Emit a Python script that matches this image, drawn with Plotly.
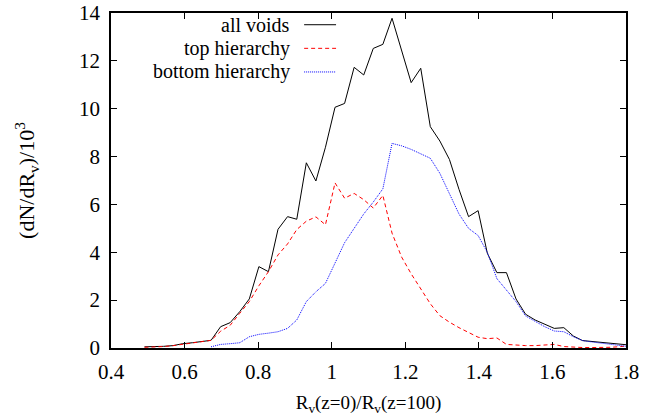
import plotly.graph_objects as go

# bin centres (ratio R_v(z=0)/R_v(z=100))
x_vals = [0.491, 0.517, 0.543, 0.569, 0.595, 0.621, 0.646, 0.672, 0.698, 0.724,
          0.750, 0.776, 0.802, 0.828, 0.854, 0.880, 0.905, 0.931, 0.957, 0.983,
          1.009, 1.035, 1.061, 1.087, 1.113, 1.139, 1.164, 1.190, 1.216, 1.242,
          1.268, 1.294, 1.320, 1.346, 1.372, 1.398, 1.423, 1.449, 1.475, 1.501,
          1.527, 1.553, 1.579, 1.605, 1.631, 1.657, 1.682, 1.708, 1.734, 1.760,
          1.786, 1.812]

all_voids = [0.05, 0.05, 0.07, 0.10, 0.18, 0.22, 0.26, 0.32, 0.89, 1.06,
             1.52, 2.05, 3.40, 3.19, 4.96, 5.49, 5.38, 7.74, 6.98, 8.39,
             10.06, 10.22, 11.73, 11.41, 12.52, 12.69, 13.78, 12.38, 11.09, 11.69,
             9.25, 8.65, 7.88, 6.63, 5.49, 5.74, 3.96, 3.15, 3.15, 2.05,
             1.41, 1.17, 1.00, 0.82, 0.85, 0.50, 0.31, 0.27, 0.22, 0.19,
             0.16, 0.12]

top_hier = [0.03, 0.04, 0.06, 0.10, 0.15, 0.20, 0.25, 0.32, 0.70, 0.95,
            1.45, 1.94, 2.60, 3.19, 3.89, 4.35, 4.95, 5.30, 5.48, 5.15,
            6.90, 6.26, 6.46, 6.20, 5.85, 6.38, 4.80, 3.80, 3.10, 2.45,
            1.85, 1.35, 1.08, 0.85, 0.65, 0.45, 0.39, 0.42, 0.15, 0.12,
            0.10, 0.10, 0.12, 0.15, 0.06, 0.03, 0.02, 0.02, 0.02, 0.03,
            0.06, 0.10]

bottom_hier = [None, None, None, None, None, None, None, 0.05, 0.15, 0.18,
               0.22, 0.47, 0.57, 0.62, 0.68, 0.82, 1.17, 1.94, 2.35, 2.70,
               3.54, 4.40, 5.00, 5.60, 6.10, 6.65, 8.55, 8.45, 8.30, 8.10,
               7.93, 7.30, 6.46, 5.60, 5.00, 4.70, 4.00, 2.90, 2.42, 1.94,
               1.34, 1.10, 0.89, 0.71, 0.68, 0.47, 0.31, 0.25, 0.20, 0.15,
               0.10, 0.05]

names = ["all voids", "top hierarchy", "bottom hierarchy"]
colors = ["black", "#ff0000", "#0000ff"]
dashes = ["solid", "4px,3px", "1px,1px"]
series = [all_voids, top_hier, bottom_hier]

x_ticks = [0.4, 0.6, 0.8, 1.0, 1.2, 1.4, 1.6, 1.8]
x_tick_text = ["0.4", "0.6", "0.8", "1", "1.2", "1.4", "1.6", "1.8"]
y_ticks = [0, 2, 4, 6, 8, 10, 12, 14]

FONT = "Liberation Serif"
TICK_SIZE = 21
LEG_SIZE = 20

fig = go.Figure()
for name, col, dsh, ys in zip(names, colors, dashes, series):
    fig.add_trace(go.Scatter(x=x_vals, y=ys, mode="lines", name=name,
                             line=dict(color=col, width=1, dash=dsh),
                             showlegend=False, connectgaps=False))

# gnuplot-style legend: right-aligned text followed by line sample
for k, (name, col, dsh) in enumerate(zip(names, colors, dashes)):
    yk = 0.965 - k * 0.0705
    fig.add_annotation(xref="paper", yref="paper", x=0.346, y=yk, text=name,
                       showarrow=False, xanchor="right", yanchor="middle",
                       xshift=3, font_family=FONT, font_size=LEG_SIZE, font_color="black")
    fig.add_shape(type="line", xref="paper", yref="paper",
                  x0=0.375, x1=0.437, y0=yk, y1=yk,
                  line=dict(color=col, width=1, dash=dsh))

fig.update_layout(
    width=654, height=419,
    margin=dict(l=111, r=28, t=13, b=71),
    paper_bgcolor="white", plot_bgcolor="white",
    font_family=FONT, font_size=TICK_SIZE, font_color="black",
)
common = dict(showgrid=False, zeroline=False, showline=True, mirror="ticks",
              linecolor="black", linewidth=1.5, ticks="inside", ticklen=6,
              tickcolor="black", tickwidth=1, automargin=False,
              tickfont_family=FONT, tickfont_size=TICK_SIZE)
fig.update_xaxes(range=[0.4, 1.8], tickvals=x_ticks, ticktext=x_tick_text,
                 ticklabelstandoff=4,
                 title_text="R<sub>v</sub>(z=0)/R<sub>v</sub>(z=100)",
                 title_standoff=13, title_font_family=FONT, title_font_size=19,
                 **common)
fig.update_yaxes(range=[0, 14], tickvals=y_ticks, ticklabelstandoff=5,
                 title_text="(dN/dR<sub>v</sub>)/10<sup>3</sup>",
                 title_standoff=38, title_font_family=FONT, title_font_size=22,
                 **common)

fig.write_html("out.html")
